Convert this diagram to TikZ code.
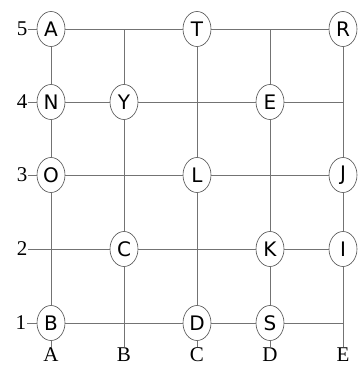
\documentclass[tikz,border=0pt]{standalone}
\usepackage{fontspec}
\setmainfont{Liberation Serif}
\newfontfamily\letterfont{DejaVu Sans}
\usetikzlibrary{shapes.geometric}
\begin{document}
\begin{tikzpicture}[x=1pt,y=-1pt,
  grid/.style={draw=black!55,line width=0.9pt},
  cell/.style={ellipse,draw=black!70,fill=white,line width=0.6pt,minimum width=28pt,minimum height=35pt,inner sep=0pt,font=\letterfont\fontsize{20}{20}\selectfont},
  axlab/.style={inner sep=1pt,font=\fontsize{21}{21}\selectfont}]
\useasboundingbox (0,0) rectangle (360,367);
% axis labels
\node[axlab] (r5) at (22,29) {5};
\node[axlab] (r4) at (22,102) {4};
\node[axlab] (r3) at (22,175) {3};
\node[axlab] (r2) at (22,249) {2};
\node[axlab] (r1) at (21,323) {1};
\node[axlab] (cA) at (51,355) {A};
\node[axlab] (cB) at (124,355) {B};
\node[axlab] (cC) at (197,355) {C};
\node[axlab] (cD) at (270,355) {D};
\node[axlab] (cE) at (343,355) {E};
% junction coordinates
\coordinate (B5) at (124,29);
\coordinate (D5) at (270,29);
\coordinate (E4) at (343,102);
\coordinate (E1) at (343,323);
% cells
\node[cell] (A) at (51,29) {A};
\node[cell] (T) at (197,29) {T};
\node[cell] (R) at (343,29) {R};
\node[cell] (N) at (51,102) {N};
\node[cell] (Y) at (124,102) {Y};
\node[cell] (E) at (270,102) {E};
\node[cell] (O) at (51,175) {O};
\node[cell] (L) at (197,175) {L};
\node[cell] (J) at (343,175) {J};
\node[cell] (C) at (124,249) {C};
\node[cell] (K) at (270,249) {K};
\node[cell] (I) at (343,249) {I};
\node[cell] (Bn) at (51,323) {B};
\node[cell] (D) at (197,323) {D};
\node[cell] (S) at (270,323) {S};
% grid lines
\draw[grid] (r5) -- (A) -- (T) -- (R);
\draw[grid] (r4) -- (N) -- (Y) -- (E) -- (E4);
\draw[grid] (r3) -- (O) -- (L) -- (J);
\draw[grid] (r2) -- (C) -- (K) -- (I);
\draw[grid] (r1) -- (Bn) -- (D) -- (S) -- (E1);
\draw[grid] (A) -- (N) -- (O) -- (Bn) -- (cA);
\draw[grid] (B5) -- (Y) -- (C) -- (cB);
\draw[grid] (T) -- (L) -- (D) -- (cC);
\draw[grid] (D5) -- (E) -- (K) -- (S) -- (cD);
\draw[grid] (R) -- (J) -- (I) -- (cE);
\end{tikzpicture}
\end{document}
